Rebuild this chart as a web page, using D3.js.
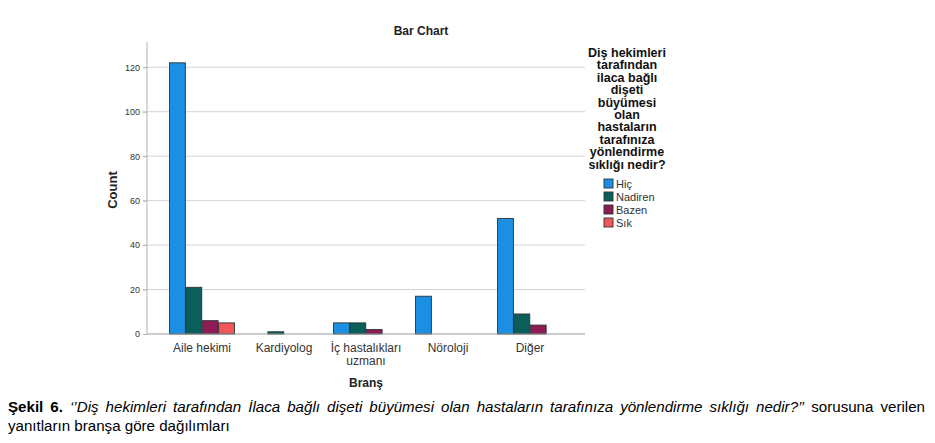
<!DOCTYPE html>
<html>
<head>
<meta charset="utf-8">
<script src="https://cdn.jsdelivr.net/npm/d3@7"></script>
<style>
  body { margin: 0; background: #fff; }
  svg text { font-family: "Liberation Sans", Arial, sans-serif; }
</style>
</head>
<body>
<div id="chart"></div>
<script>
const width = 935, height = 443;

// data
const branches = ["Aile hekimi", "Kardiyolog", "İç hastalıkları uzmanı", "Nöroloji", "Diğer"];
const answers = ["Hiç", "Nadiren", "Bazen", "Sık"];
const hic     = [122, 0, 5, 17, 52];
const nadiren = [21, 1, 5, 0, 9];
const bazen   = [6, 0, 2, 0, 4];
const sik     = [5, 0, 0, 0, 0];
const yTicks = [0, 20, 40, 60, 80, 100, 120];
const colors = ["#1a8fe3", "#0b5f5b", "#8e1b54", "#f2555a"];
const legendTitle = ["Diş hekimleri", "tarafından", "ilaca bağlı", "dişeti", "büyümesi", "olan",
  "hastaların", "tarafınıza", "yönlendirme", "sıklığı nedir?"];

const series = [hic, nadiren, bazen, sik];

let svg = d3.select("#chart")
    .append("svg")
    .attr("width", width)
    .attr("height", height);

let plotLeft = 147, plotRight = 585, plotTop = 41.7, plotBottom = 334;

let x = d3.scaleBand()
    .domain(branches)
    .range([plotLeft, plotRight])
    .paddingInner(0.195)
    .paddingOuter(0.268);

let xs = d3.scaleBand()
    .domain(answers)
    .range([0, x.bandwidth()])
    .padding(0.03);

let y = d3.scaleLinear()
    .domain([0, 131.5])
    .range([plotBottom, plotTop]);

// title
svg.append("text")
    .attr("x", 421).attr("y", 35)
    .attr("text-anchor", "middle")
    .attr("font-size", 12).attr("font-weight", "bold")
    .attr("fill", "#222")
    .text("Bar Chart");

// grid lines
svg.append("g")
    .selectAll("line")
    .data(yTicks.filter(d => d > 0))
    .enter()
    .append("line")
    .attr("x1", plotLeft - 4).attr("x2", plotRight)
    .attr("y1", d => y(d)).attr("y2", d => y(d))
    .attr("stroke", "#d4d4d4").attr("stroke-width", 1);

// y axis
let yAxis = svg.append("g")
    .attr("transform", "translate(" + plotLeft + ",0)")
    .call(d3.axisLeft(y).tickValues(yTicks).tickSize(4).tickPadding(3));
yAxis.select(".domain").attr("stroke", "#b0b0b0").attr("d", "M0," + plotTop + "V" + plotBottom);
yAxis.selectAll(".tick line").attr("stroke", "#b0b0b0");
yAxis.selectAll(".tick text").attr("font-size", 9).attr("fill", "#333")
    .attr("font-family", "'Liberation Sans', Arial, sans-serif");

// bars
let groups = svg.append("g")
    .selectAll("g")
    .data(branches)
    .enter()
    .append("g")
    .attr("transform", d => "translate(" + x(d) + ",0)");

groups.selectAll("rect")
    .data((d, i) => answers.map((a, j) => ({ answer: a, value: series[j][i], color: colors[j] }))
        .filter(b => b.value > 0))
    .enter()
    .append("rect")
    .attr("x", d => xs(d.answer))
    .attr("width", xs.bandwidth())
    .attr("y", d => y(d.value))
    .attr("height", d => y(0) - y(d.value))
    .attr("fill", d => d.color)
    .attr("stroke", "#2b3338")
    .attr("stroke-width", 0.9);

// x axis baseline
svg.append("line")
    .attr("x1", plotLeft).attr("x2", plotRight)
    .attr("y1", plotBottom).attr("y2", plotBottom)
    .attr("stroke", "#999").attr("stroke-width", 1);

// category labels
let catLabels = svg.append("g")
    .selectAll("text")
    .data(branches)
    .enter()
    .append("text")
    .attr("x", d => x(d) + x.bandwidth() / 2)
    .attr("y", 352)
    .attr("text-anchor", "middle")
    .attr("font-size", 12)
    .attr("fill", "#333");
catLabels.each(function (d) {
    let lines = d === "İç hastalıkları uzmanı" ? ["İç hastalıkları", "uzmanı"] : [d];
    d3.select(this).selectAll("tspan")
        .data(lines)
        .enter()
        .append("tspan")
        .attr("x", x(d) + x.bandwidth() / 2)
        .attr("dy", (l, i) => i === 0 ? 0 : 13)
        .text(l => l);
});

// axis titles
svg.append("text")
    .attr("transform", "translate(117,190) rotate(-90)")
    .attr("text-anchor", "middle")
    .attr("font-size", 13).attr("font-weight", "bold")
    .attr("fill", "#222")
    .text("Count");

svg.append("text")
    .attr("x", 366).attr("y", 387)
    .attr("text-anchor", "middle")
    .attr("font-size", 12).attr("font-weight", "bold")
    .attr("fill", "#222")
    .text("Branş");

// legend
svg.append("text")
    .attr("x", 627).attr("y", 57)
    .attr("text-anchor", "middle")
    .attr("font-size", 12.5).attr("font-weight", "bold")
    .attr("fill", "#111")
    .selectAll("tspan")
    .data(legendTitle)
    .enter()
    .append("tspan")
    .attr("x", 627)
    .attr("dy", (d, i) => i === 0 ? 0 : 12.4)
    .text(d => d);

let legend = svg.append("g")
    .selectAll("g")
    .data(answers)
    .enter()
    .append("g")
    .attr("transform", (d, i) => "translate(604," + (179 + i * 13) + ")");

legend.append("rect")
    .attr("width", 9).attr("height", 9)
    .attr("fill", (d, i) => colors[i])
    .attr("stroke", "#2b3338").attr("stroke-width", 0.9);

legend.append("text")
    .attr("x", 12).attr("y", 8.5)
    .attr("font-size", 11)
    .attr("fill", "#333")
    .text(d => d);

// caption (slightly stretched sideways like the source)
let capScale = 1.08;
let caption = svg.append("g")
    .attr("transform", "translate(8,0) scale(" + capScale + ",1)");

let cap1 = caption.append("text")
    .attr("x", 0).attr("y", 412.5)
    .attr("font-size", 14)
    .attr("fill", "#000");
cap1.append("tspan").attr("font-weight", "bold").text("Şekil 6. ");
cap1.append("tspan").attr("font-style", "italic")
    .text("‘’Diş hekimleri tarafından İlaca bağlı dişeti büyümesi olan hastaların tarafınıza yönlendirme sıklığı nedir?’’");
cap1.append("tspan").text(" sorusuna verilen");

// justify first caption line
let natural = cap1.node().getComputedTextLength();
let gaps = cap1.text().split(" ").length - 1;
let extra = (925 - 8) / capScale - natural;
cap1.attr("word-spacing", Math.max(0, extra / gaps));

caption.append("text")
    .attr("x", 0).attr("y", 431)
    .attr("font-size", 14)
    .attr("fill", "#000")
    .text("yanıtların branşa göre dağılımları");
</script>
</body>
</html>
